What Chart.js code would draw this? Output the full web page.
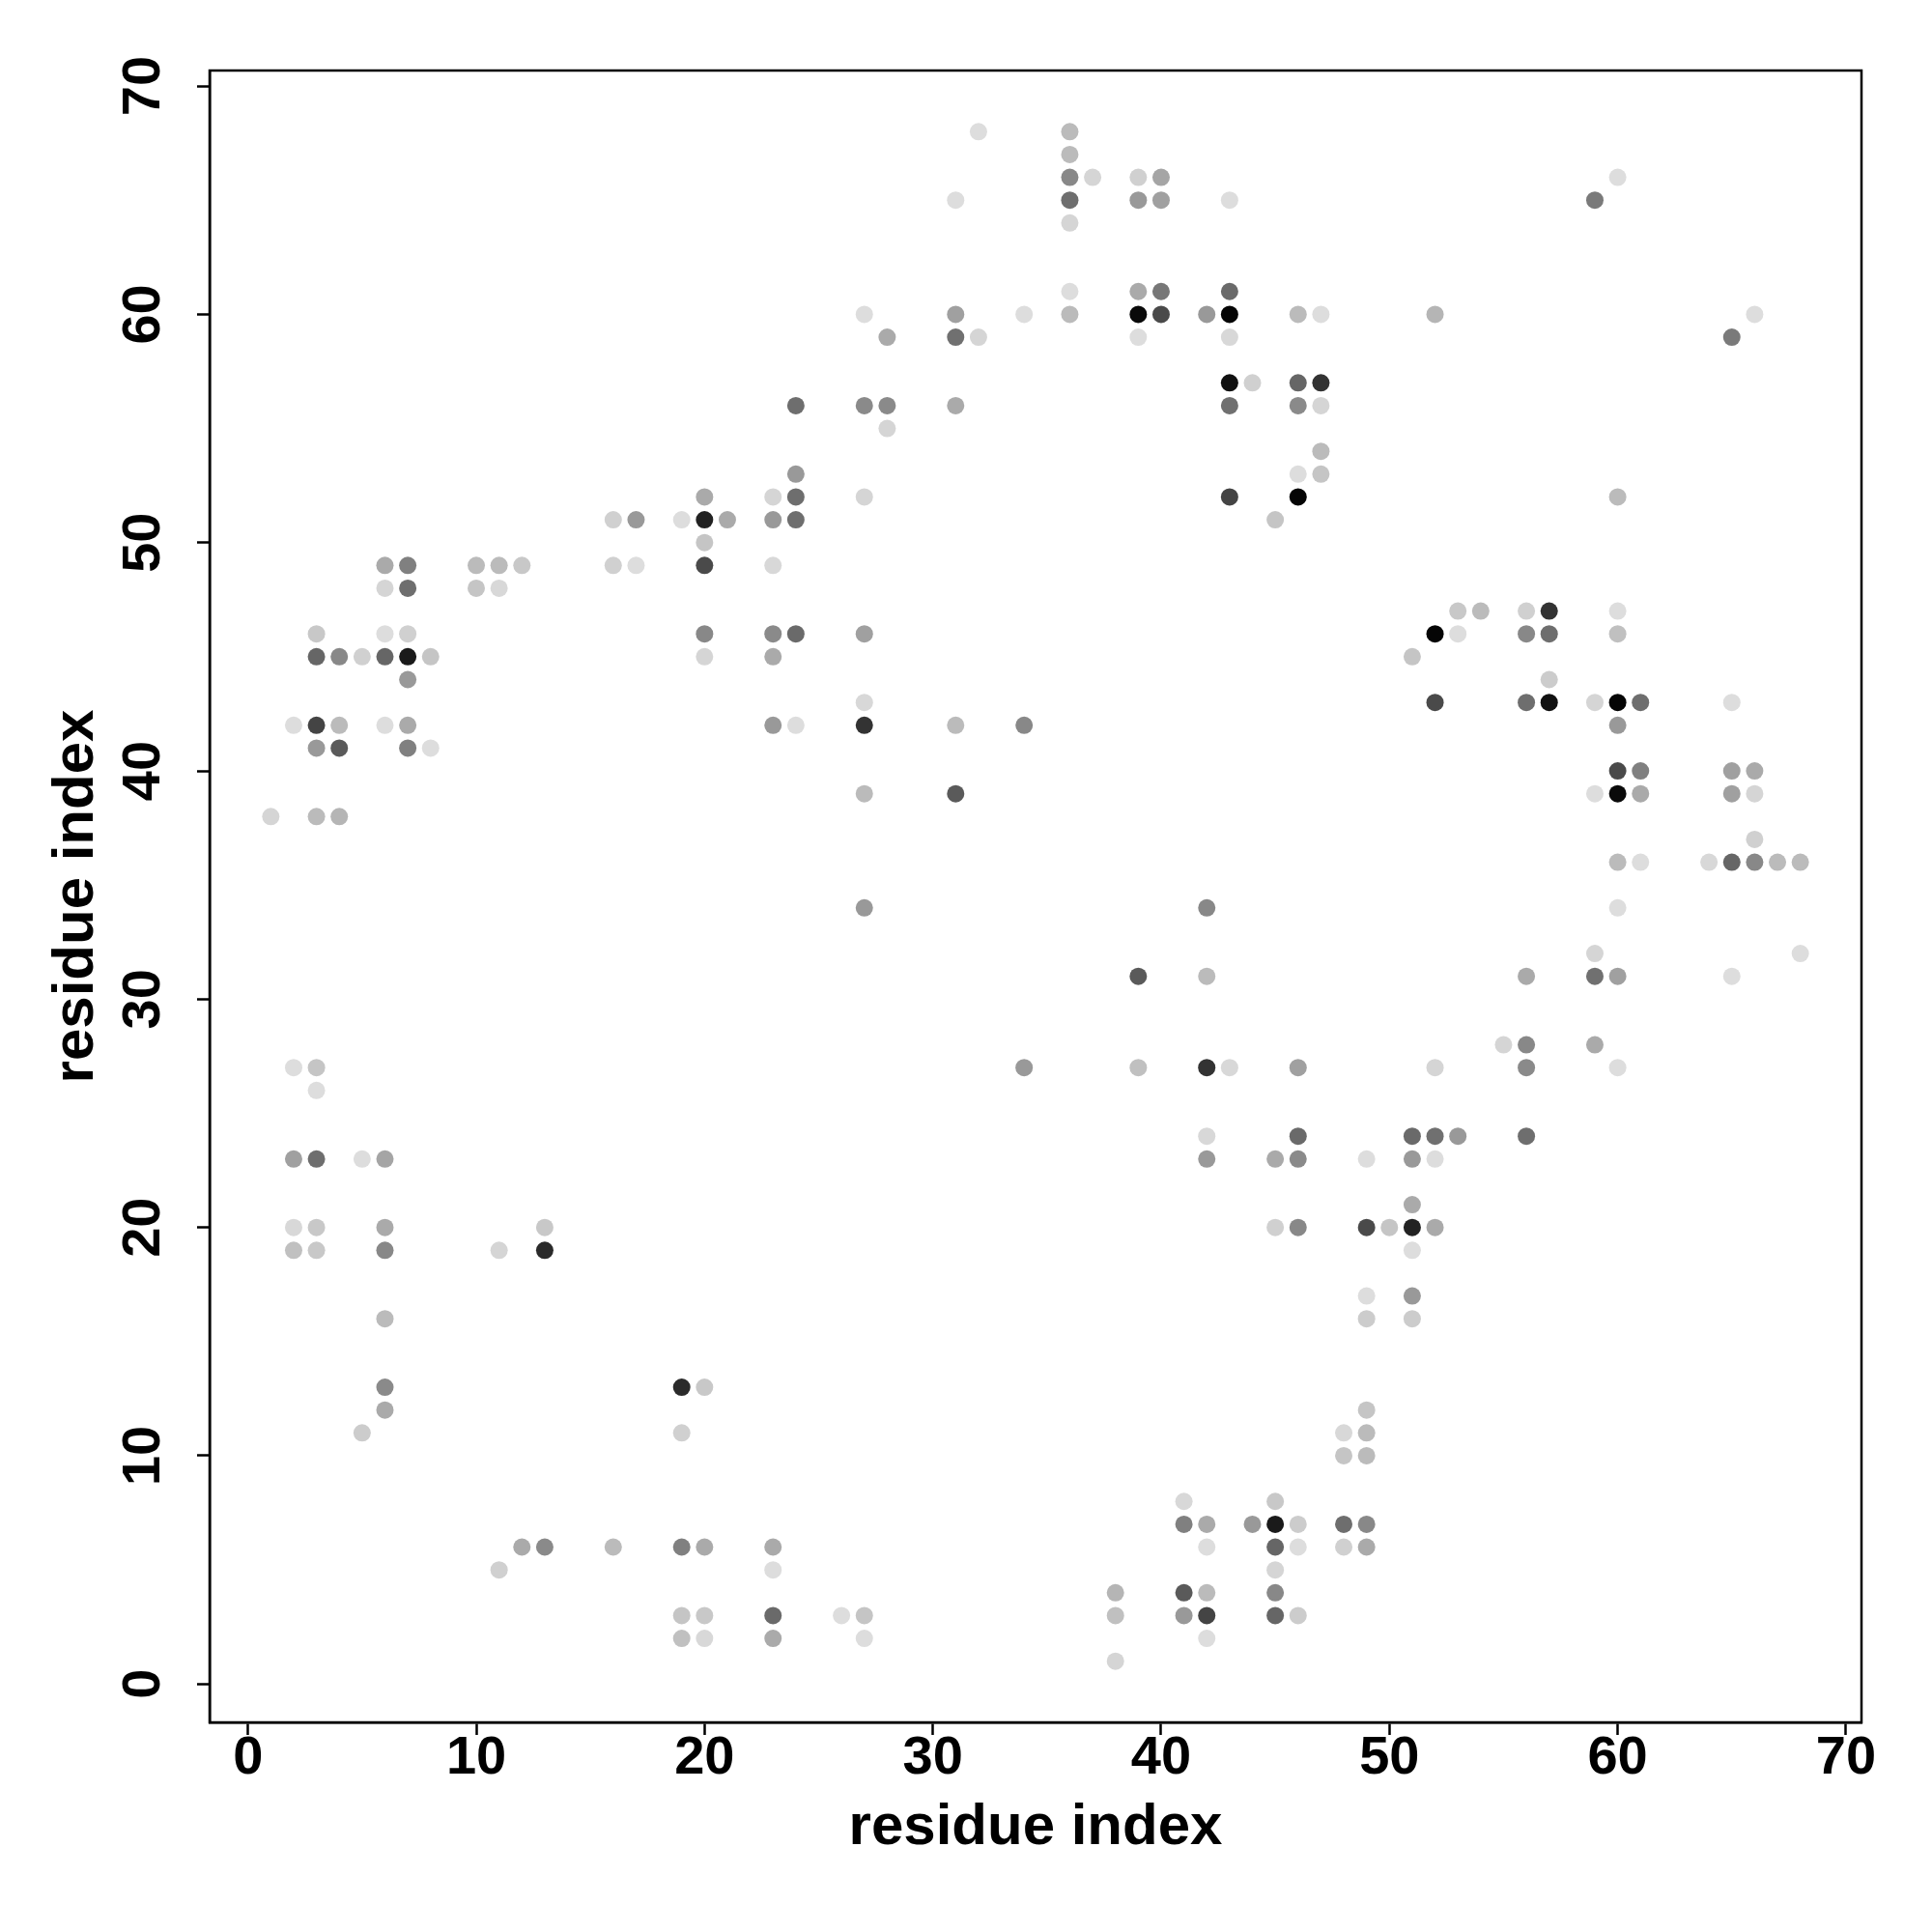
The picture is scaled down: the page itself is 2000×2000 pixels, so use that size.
<!DOCTYPE html>
<html>
<head>
<meta charset="utf-8">
<script src="https://cdn.jsdelivr.net/npm/chart.js@4"></script>
<style>
  html, body { margin: 0; padding: 0; background: #fff; }
</style>
</head>
<body>
<canvas id="contact-map" width="2000" height="2000"></canvas>
<script>
// contact map: residue i (x), residue j (y), grey level of the dot (0 = black)
const resX = [
  32, 36,
  36,
  36, 37, 39, 40, 60,
  31, 36, 39, 40, 43, 59,
  36,
  36, 39, 40, 43,
  27, 31, 34, 36, 39, 40, 42, 43, 46, 47, 52, 66,
  28, 31, 32, 39, 43, 65,
  43, 44, 46, 47,
  24, 27, 28, 31, 43, 46, 47,
  28,
  47,
  24, 46, 47,
  20, 23, 24, 27, 43, 46, 60,
  16, 17, 19, 20, 21, 23, 24, 45,
  20,
  6, 7, 10, 11, 12, 16, 17, 20, 23,
  6, 7, 10, 11,
  53, 54, 56, 57, 60,
  3, 6, 7, 20, 23, 24, 27, 52, 53, 56, 57, 60,
  3, 4, 5, 6, 7, 8, 20, 23, 51,
  7, 57,
  27, 52, 56, 57, 59, 60, 61, 65,
  2, 3, 4, 6, 7, 23, 24, 27, 31, 34, 60,
  3, 4, 7, 8,
  60, 61, 65, 66,
  27, 31, 59, 60, 61, 65, 66,
  1, 3, 4,
  66,
  60, 61, 64, 65, 66, 67, 68,
  27, 42, 60,
  59, 68,
  39, 42, 56, 59, 60, 65,
  55, 56, 59,
  2, 3, 34, 39, 42, 43, 46, 52, 56, 60,
  3,
  42, 46, 51, 52, 53, 56,
  2, 3, 5, 6, 42, 45, 46, 49, 51, 52,
  51,
  2, 3, 6, 13, 45, 46, 49, 50, 51, 52,
  2, 3, 6, 11, 13, 51,
  49, 51,
  6, 49, 51,
  6, 19, 20,
  6, 49,
  5, 19, 48, 49,
  48, 49,
  41, 45,
  41, 42, 44, 45, 46, 48, 49,
  12, 13, 16, 19, 20, 23, 42, 45, 46, 48, 49,
  11, 23, 45,
  38, 41, 42, 45,
  19, 20, 23, 26, 27, 38, 41, 42, 45, 46,
  19, 20, 23, 27, 42,
  38
];
const resY = [
  68, 68,
  67,
  66, 66, 66, 66, 66,
  65, 65, 65, 65, 65, 65,
  64,
  61, 61, 61, 61,
  60, 60, 60, 60, 60, 60, 60, 60, 60, 60, 60, 60,
  59, 59, 59, 59, 59, 59,
  57, 57, 57, 57,
  56, 56, 56, 56, 56, 56, 56,
  55,
  54,
  53, 53, 53,
  52, 52, 52, 52, 52, 52, 52,
  51, 51, 51, 51, 51, 51, 51, 51,
  50,
  49, 49, 49, 49, 49, 49, 49, 49, 49,
  48, 48, 48, 48,
  47, 47, 47, 47, 47,
  46, 46, 46, 46, 46, 46, 46, 46, 46, 46, 46, 46,
  45, 45, 45, 45, 45, 45, 45, 45, 45,
  44, 44,
  43, 43, 43, 43, 43, 43, 43, 43,
  42, 42, 42, 42, 42, 42, 42, 42, 42, 42, 42,
  41, 41, 41, 41,
  40, 40, 40, 40,
  39, 39, 39, 39, 39, 39, 39,
  38, 38, 38,
  37,
  36, 36, 36, 36, 36, 36, 36,
  34, 34, 34,
  32, 32,
  31, 31, 31, 31, 31, 31,
  28, 28, 28,
  27, 27, 27, 27, 27, 27, 27, 27, 27, 27,
  26,
  24, 24, 24, 24, 24, 24,
  23, 23, 23, 23, 23, 23, 23, 23, 23, 23,
  21,
  20, 20, 20, 20, 20, 20, 20, 20, 20, 20,
  19, 19, 19, 19, 19, 19,
  17, 17,
  16, 16, 16,
  13, 13, 13,
  12, 12,
  11, 11, 11, 11,
  10, 10,
  8, 8,
  7, 7, 7, 7, 7, 7, 7,
  6, 6, 6, 6, 6, 6, 6, 6, 6, 6, 6,
  5, 5, 5,
  4, 4, 4, 4,
  3, 3, 3, 3, 3, 3, 3, 3, 3, 3,
  2, 2, 2, 2, 2,
  1
];
const grey = [
  221, 187,
  187,
  136, 213, 208, 165, 221,
  221, 110, 153, 160, 221, 122,
  213,
  221, 170, 119, 106,
  221, 160, 221, 187, 10, 74, 153, 5, 187, 221, 181, 221,
  170, 112, 213, 221, 216, 122,
  17, 208, 102, 51,
  110, 138, 138, 170, 112, 138, 213,
  213,
  187,
  153, 221, 197,
  170, 213, 110, 213, 68, 5, 187,
  208, 153, 221, 34, 170, 153, 110, 197,
  197,
  170, 128, 187, 187, 200, 208, 221, 74, 216,
  213, 110, 197, 216,
  200, 187, 208, 51, 221,
  200, 221, 208, 136, 138, 106, 160, 5, 221, 136, 110, 192,
  102, 136, 208, 102, 26, 197, 213, 170, 197,
  153, 204,
  216, 74, 110, 17, 213, 5, 110, 221,
  221, 68, 187, 221, 170, 153, 221, 51, 187, 136, 153,
  153, 90, 128, 221,
  74, 128, 160, 170,
  187, 90, 221, 10, 170, 160, 213,
  213, 187, 181,
  208,
  187, 221, 216, 102, 136, 187, 187,
  153, 136, 221,
  213, 221,
  90, 187, 170, 112, 160, 221,
  213, 136, 170,
  221, 197, 153, 192, 51, 216, 160, 213, 138, 221,
  221,
  216, 106, 106, 112, 153, 110,
  160, 110, 221, 165, 153, 170, 138, 221, 153, 221,
  170,
  216, 200, 170, 200, 208, 136, 74, 197, 34, 170,
  192, 200, 136, 213, 42, 221,
  221, 153,
  187, 204, 204,
  138, 42, 200,
  170, 197,
  204, 208, 216, 187,
  197, 187,
  216, 200,
  128, 170, 153, 26, 204, 110, 136,
  170, 138, 187, 128, 170, 170, 221, 102, 221, 208, 170,
  208, 221, 213,
  181, 90, 187, 136,
  197, 200, 106, 221, 197, 192, 153, 68, 102, 204,
  192, 216, 170, 221, 221,
  213
];
const tickVals = [0, 10, 20, 30, 40, 50, 60, 70];
const axisMin = -1.68;
const axisMax = 70.68;
const axisTitle = 'residue index';

const points = resX.map((x, i) => ({ x: x, y: resY[i] }));
const colours = grey.map(g => `rgb(${g},${g},${g})`);

const plotBox = { left: 217, top: 73, right: 1927, bottom: 1783 };
const fontFamily = '"Liberation Sans", Arial, Helvetica, sans-serif';

const baseDecor = {
  id: 'baseDecor',
  afterDraw(chart) {
    const ctx = chart.ctx;
    const area = chart.chartArea;
    const xs = chart.scales.x;
    const ys = chart.scales.y;
    ctx.save();
    ctx.strokeStyle = '#000';
    ctx.lineWidth = 2.5;
    ctx.strokeRect(area.left, area.top, area.right - area.left, area.bottom - area.top);

    ctx.fillStyle = '#000';
    ctx.font = 'bold 56px ' + fontFamily;
    ctx.textAlign = 'center';
    ctx.textBaseline = 'middle';
    tickVals.forEach(v => {
      ctx.fillText(String(v), xs.getPixelForValue(v), 1821);
    });
    tickVals.forEach(v => {
      ctx.save();
      ctx.translate(150, ys.getPixelForValue(v));
      ctx.rotate(-Math.PI / 2);
      ctx.fillText(String(v), 0, 0);
      ctx.restore();
    });

    ctx.font = 'bold 60px ' + fontFamily;
    ctx.fillText(axisTitle, (area.left + area.right) / 2, 1892);
    ctx.save();
    ctx.translate(79, (area.top + area.bottom) / 2);
    ctx.rotate(-Math.PI / 2);
    ctx.fillText(axisTitle, 0, 0);
    ctx.restore();
    ctx.restore();
  }
};

function axisOpts(fitFn) {
  return {
    type: 'linear',
    min: axisMin,
    max: axisMax,
    afterBuildTicks: scale => { scale.ticks = tickVals.map(v => ({ value: v })); },
    afterFit: fitFn,
    ticks: { display: false },
    grid: {
      drawOnChartArea: false,
      drawTicks: true,
      tickLength: 13,
      tickWidth: 2.5,
      tickColor: '#000'
    },
    border: { display: true, color: '#000', width: 2.5 },
    title: { display: false }
  };
}

new Chart(document.getElementById('contact-map'), {
  type: 'scatter',
  data: {
    datasets: [{
      data: points,
      pointRadius: 9,
      pointHoverRadius: 9,
      pointBorderWidth: 0,
      pointBackgroundColor: colours,
      pointBorderColor: colours
    }]
  },
  options: {
    responsive: false,
    animation: false,
    devicePixelRatio: 1,
    layout: { padding: { left: 0, top: plotBox.top, right: 2000 - plotBox.right, bottom: 0 } },
    plugins: { legend: { display: false }, tooltip: { enabled: false } },
    scales: {
      x: axisOpts(scale => { scale.height = 2000 - plotBox.bottom; }),
      y: axisOpts(scale => { scale.width = plotBox.left; })
    }
  },
  plugins: [baseDecor]
});
</script>
</body>
</html>
